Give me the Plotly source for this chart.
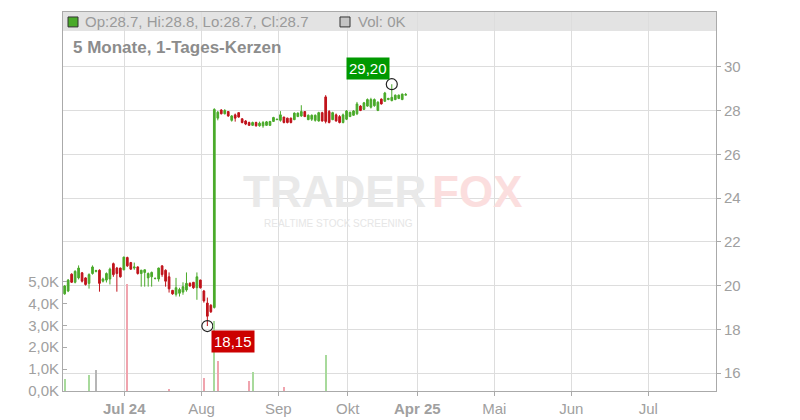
import plotly.graph_objects as go

# ---------------- data ----------------
opens = [19.62, 19.75, 20.52, 20.15, 20.35, 20.58, 20.35, 20.10, 20.55, 20.65,
         20.70, 20.20, 20.25, 20.30, 21.00, 20.80, 20.80, 20.72, 21.28, 21.05,
         20.80, 20.85, 20.55, 20.60, 20.35, 20.40, 20.32, 20.30, 20.90, 20.70,
         20.40, 19.78, 19.60, 19.65, 19.70, 19.80, 20.10, 20.15, 19.90, 20.25,
         19.75, 19.20, 19.10, 19.00,
         27.65, 28.02, 27.85, 27.95, 27.55, 27.80, 27.90, 27.62, 27.52, 27.45,
         27.32, 27.45, 27.30, 27.30, 27.32, 27.32, 27.50, 27.58, 27.55, 27.70,
         27.65, 27.65, 27.58, 27.72, 27.75,
         27.95, 27.58, 27.60, 27.55, 27.52, 27.90, 28.62, 27.95, 27.58, 27.80,
         27.72, 27.45, 27.60, 27.72, 27.78, 27.85, 28.20, 28.05, 28.20, 28.15,
         28.22, 28.00, 28.52, 28.42, 28.50, 28.45, 28.50, 28.55, 28.50, 28.70]
highs = [20.02, 20.30, 20.56, 20.70, 20.92, 20.62, 20.38, 20.56, 20.92, 20.72,
         20.74, 20.36, 20.60, 20.82, 21.05, 20.85, 20.82, 21.32, 21.32, 21.08,
         21.05, 20.88, 20.72, 20.74, 20.60, 20.64, 20.36, 20.82, 20.92, 20.74,
         20.60, 19.80, 20.35, 19.90, 20.15, 20.60, 20.15, 20.15, 20.60, 20.27,
         19.80, 19.45, 19.15, 28.10,
         27.98, 28.06, 28.06, 27.97, 27.79, 27.86, 27.91, 27.64, 27.56, 27.49,
         27.49, 27.49, 27.49, 27.52, 27.52, 27.52, 27.71, 27.61, 27.97, 27.71,
         27.67, 27.67, 27.91, 27.91, 28.24,
         27.97, 27.82, 27.82, 27.82, 27.94, 27.94, 28.70, 28.02, 27.94, 27.86,
         27.79, 27.86, 28.02, 27.94, 28.02, 28.39, 28.24, 28.39, 28.55, 28.58,
         28.55, 28.42, 28.55, 28.85, 28.58, 29.20, 28.73, 28.73, 28.77, 28.80]
lows = [19.58, 19.70, 20.12, 20.10, 20.28, 20.14, 20.00, 19.86, 20.50, 20.60,
        19.72, 20.14, 20.14, 20.05, 20.40, 19.72, 20.36, 20.70, 20.85, 20.72,
        20.72, 20.50, 19.95, 19.95, 19.95, 19.95, 20.28, 20.18, 20.40, 19.95,
        19.68, 19.58, 19.50, 19.50, 19.58, 19.72, 19.95, 19.85, 19.35, 19.86,
        19.22, 18.15, 18.75, 18.95,
        27.55, 27.82, 27.82, 27.71, 27.49, 27.49, 27.67, 27.41, 27.33, 27.30,
        27.30, 27.26, 27.26, 27.21, 27.30, 27.30, 27.49, 27.56, 27.49, 27.41,
        27.41, 27.41, 27.56, 27.71, 27.71,
        27.71, 27.56, 27.52, 27.49, 27.49, 27.49, 27.41, 27.41, 27.56, 27.49,
        27.41, 27.41, 27.56, 27.71, 27.76, 27.79, 27.97, 28.02, 28.17, 28.09,
        28.17, 27.97, 28.27, 28.40, 28.47, 28.42, 28.47, 28.52, 28.47, 28.69]
closes = [19.98, 20.25, 20.15, 20.65, 20.80, 20.20, 20.05, 20.50, 20.85, 20.68,
          20.10, 20.30, 20.55, 20.75, 20.50, 20.55, 20.40, 21.30, 20.90, 20.75,
          20.85, 20.55, 20.70, 20.72, 20.55, 20.60, 20.33, 20.80, 20.50, 20.20,
          19.85, 19.62, 19.90, 19.82, 19.95, 20.10, 19.98, 19.90, 20.40, 19.90,
          19.30, 18.60, 18.80, 28.05,
          27.92, 27.85, 28.00, 27.75, 27.75, 27.65, 27.70, 27.45, 27.38, 27.32,
          27.45, 27.30, 27.42, 27.45, 27.48, 27.50, 27.68, 27.60, 27.80, 27.45,
          27.45, 27.45, 27.88, 27.88, 27.95,
          27.72, 27.78, 27.78, 27.78, 27.90, 27.52, 27.50, 27.45, 27.90, 27.52,
          27.45, 27.80, 27.98, 27.92, 27.98, 28.30, 28.00, 28.35, 28.50, 28.50,
          28.50, 28.38, 28.30, 28.80, 28.55, 28.60, 28.70, 28.70, 28.75, 28.73]

vol_days = [0, 7, 9, 18, 30, 40, 43, 44, 53, 54, 63, 75]
vol_values = [530, 740, 970, 4900, 60, 600, 3200, 1390, 480, 850, 200, 1660]
vol_dirs = ["up", "up", "flat", "down", "down", "down", "up", "down", "down", "up", "down", "up"]
last_volume_k = 0

month_tick_pos = [17.13, 39.32, 61.38, 81.34, 101.33, 123.45, 145.58, 167.7]
month_tick_labels = ["<b>Jul 24</b>", "Aug", "Sep", "Okt", "<b>Apr 25</b>", "Mai", "Jun", "Jul"]
price_ticks = [16, 18, 20, 22, 24, 26, 28, 30]
vol_ticks = [0, 1000, 2000, 3000, 4000, 5000]
vol_tick_labels = ["0,0K", "1,0K", "2,0K", "3,0K", "4,0K", "5,0K"]
subtitle = "5 Monate, 1-Tages-Kerzen"

# ---------------- styling ----------------
GREEN = "#4aaa2a"
RED = "#c0131b"
VOL_COL = {"up": "#a8da9c", "down": "#f0a4ae", "flat": "#b6b6b6"}
GRID = "#dddddd"
AXIS = "#aaaaaa"
TXT = "#a0a0a0"
FONT = "Liberation Sans, Arial, sans-serif"

days = list(range(len(opens)))

# plot area in window pixels (page body has an 8px margin)
OFF = 8
L, R, T, B = 63, 716, 11, 392
W, H = 800 - OFF, 420 - OFF


def px(x):
    return (x - L) / (R - L)


def py(y):
    return (B - y) / (B - T)


fig = go.Figure()

fig.add_trace(go.Candlestick(
    x=days, open=opens, high=highs, low=lows, close=closes,
    increasing=dict(line=dict(color=GREEN, width=1), fillcolor=GREEN),
    decreasing=dict(line=dict(color=RED, width=1), fillcolor=RED),
    whiskerwidth=0, hoverinfo="skip", showlegend=False,
    xaxis="x", yaxis="y",
))

fig.add_trace(go.Bar(
    x=vol_days, y=vol_values, width=0.6,
    marker=dict(color=[VOL_COL[d] for d in vol_dirs], line=dict(width=0)),
    hoverinfo="skip", showlegend=False, xaxis="x", yaxis="y2",
))

# extreme markers
i_hi = max(days, key=lambda i: highs[i])
i_lo = min(days, key=lambda i: lows[i])
fig.add_trace(go.Scatter(
    x=[i_hi, i_lo], y=[highs[i_hi], lows[i_lo]], mode="markers",
    marker=dict(symbol="circle-open", size=11, color="#222222", line=dict(width=1.2)),
    hoverinfo="skip", showlegend=False, xaxis="x", yaxis="y",
))


def de(v):
    return f"{v:.2f}".replace(".", ",")


annotations = [
    dict(x=i_hi, y=highs[i_hi], xref="x", yref="y", text=de(highs[i_hi]),
         showarrow=False, xshift=-24, yshift=15.5, bgcolor="#009900",
         font=dict(color="white", size=15, family=FONT), borderpad=2),
    dict(x=i_lo, y=lows[i_lo], xref="x", yref="y", text=de(lows[i_lo]),
         showarrow=False, xshift=26, yshift=-15, bgcolor="#cc0000",
         font=dict(color="white", size=15, family=FONT), borderpad=2),
    # header texts
    dict(x=px(83), y=py(21), xref="paper", yref="paper", xanchor="left", yanchor="middle",
         text=f"Op:{opens[-1]:.1f}, Hi:{highs[-1]:.1f}, Lo:{lows[-1]:.1f}, Cl:{closes[-1]:.1f}",
         showarrow=False, font=dict(color="#9a9a9a", size=15, family=FONT)),
    dict(x=px(356), y=py(21), xref="paper", yref="paper", xanchor="left", yanchor="middle",
         text=f"Vol: {last_volume_k}K", showarrow=False,
         font=dict(color="#9a9a9a", size=15, family=FONT)),
    dict(x=px(71), y=py(47), xref="paper", yref="paper", xanchor="left", yanchor="middle",
         text=f"<b>{subtitle}</b>", showarrow=False,
         font=dict(color="#8c8c8c", size=17, family=FONT)),
    # watermark
    dict(x=px(428), y=py(191), xref="paper", yref="paper", xanchor="right", yanchor="middle",
         text="<b>TRADER</b>", showarrow=False,
         font=dict(color="#e9e9e9", size=44, family=FONT)),
    dict(x=px(430), y=py(191), xref="paper", yref="paper", xanchor="left", yanchor="middle",
         text="<b>FOX</b>", showarrow=False,
         font=dict(color="#fbdede", size=44, family=FONT)),
    dict(x=px(338), y=py(224), xref="paper", yref="paper", xanchor="center", yanchor="middle",
         text="REALTIME STOCK SCREENING", showarrow=False,
         font=dict(color="#e6e6e6", size=10, family=FONT)),
]

shapes = [
    dict(type="rect", xref="paper", yref="paper", x0=0, x1=1, y0=py(30), y1=1,
         fillcolor="#e3e3e3", line=dict(width=0), layer="below"),
    dict(type="rect", xref="paper", yref="paper", x0=px(68), x1=px(78), y0=py(26), y1=py(16),
         fillcolor=GREEN, line=dict(color="#333333", width=1), layer="above"),
    dict(type="rect", xref="paper", yref="paper", x0=px(340), x1=px(350), y0=py(26), y1=py(16),
         fillcolor="#c4c4c4", line=dict(color="#333333", width=1), layer="above"),
]

price_lo = 30 - (B - 66) / 22.0
price_hi = 30 + (66 - T) / 22.0
vol_hi = (B - T) / 22.0 * 1000

fig.update_layout(
    width=W, height=H,
    margin=dict(l=L - OFF, r=800 - R, t=T - OFF, b=420 - B, pad=0),
    paper_bgcolor="white", plot_bgcolor="white",
    font=dict(family=FONT, color=TXT, size=15),
    bargap=0,
    xaxis=dict(
        range=[(L - 64.67) / 3.48, (R - 64.67) / 3.48],
        tickvals=month_tick_pos, ticktext=month_tick_labels,
        showgrid=True, gridcolor=GRID, gridwidth=1,
        showline=True, linecolor=AXIS, linewidth=1, mirror=True,
        ticks="outside", ticklen=4, tickcolor=AXIS,
        rangeslider=dict(visible=False), zeroline=False, fixedrange=True,
        tickfont=dict(color=TXT, size=15),
    ),
    yaxis=dict(
        side="right", range=[price_lo, price_hi],
        tickvals=price_ticks, ticktext=[str(t) for t in price_ticks],
        showgrid=True, gridcolor=GRID, gridwidth=1,
        showline=True, linecolor=AXIS, linewidth=1,
        ticks="outside", ticklen=4, tickcolor=AXIS,
        zeroline=False, fixedrange=True, tickfont=dict(color=TXT, size=15),
    ),
    yaxis2=dict(
        overlaying="y", side="left", range=[0, vol_hi],
        tickvals=vol_ticks, ticktext=vol_tick_labels,
        showgrid=False, showline=True, linecolor=AXIS, linewidth=1,
        ticks="inside", ticklen=4, tickcolor=AXIS,
        zeroline=False, fixedrange=True, tickfont=dict(color=TXT, size=15),
    ),
    annotations=annotations,
    shapes=shapes,
    showlegend=False,
)

fig.write_html("out.html")
